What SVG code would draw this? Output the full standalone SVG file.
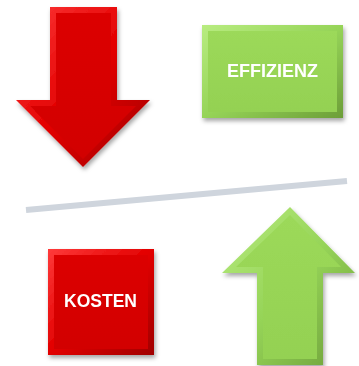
<svg xmlns="http://www.w3.org/2000/svg" width="359" height="366" viewBox="0 0 359 366">
<defs>
<filter id="sh" x="-20%" y="-20%" width="140%" height="140%">
<feDropShadow dx="1.5" dy="3" stdDeviation="2" flood-color="#000" flood-opacity="0.35"/>
</filter>
<linearGradient id="redRim" x1="0" y1="0" x2="1" y2="1">
<stop offset="0" stop-color="#ff3a3a"/>
<stop offset="0.5" stop-color="#e20000"/>
<stop offset="1" stop-color="#a00000"/>
</linearGradient>
<linearGradient id="redFill" x1="0" y1="0" x2="0" y2="1">
<stop offset="0" stop-color="#dc0000"/>
<stop offset="1" stop-color="#d20000"/>
</linearGradient>
<linearGradient id="greenRim" x1="0" y1="0" x2="1" y2="1">
<stop offset="0" stop-color="#b8ec80"/>
<stop offset="0.5" stop-color="#96d458"/>
<stop offset="1" stop-color="#6c9e38"/>
</linearGradient>
<linearGradient id="greenFill" x1="0" y1="0" x2="0" y2="1">
<stop offset="0" stop-color="#9cd95a"/>
<stop offset="1" stop-color="#94d152"/>
</linearGradient>
<style>
.lbl{font-family:"Liberation Sans",Arial,sans-serif;font-weight:bold;font-size:17.5px;fill:#fff;text-anchor:middle}
</style>
</defs>
<g id="divider">
<line x1="26" y1="210" x2="347" y2="181" stroke="#cfd5dd" stroke-width="6"/>
</g>
<g id="arrow-down" filter="url(#sh)">
<polygon points="50,7 117,7 117,100 150,100 83,167 16,100 50,100" fill="url(#redRim)"/>
<polygon points="56,13 111,13 111,106 136,106 83,159 30,106 56,106" fill="url(#redFill)"/>
</g>
<g id="effizienz" filter="url(#sh)">
<rect x="202" y="25" width="141" height="93" fill="url(#greenRim)"/>
<rect x="208" y="31" width="129" height="81" fill="url(#greenFill)"/>
<text class="lbl" x="272.5" y="77" textLength="91" lengthAdjust="spacingAndGlyphs">EFFIZIENZ</text>
</g>
<g id="kosten" filter="url(#sh)">
<rect x="48" y="249" width="106" height="106" fill="url(#redRim)"/>
<rect x="54" y="255" width="94" height="94" fill="url(#redFill)"/>
<text class="lbl" x="100.5" y="307">KOSTEN</text>
</g>
<g id="arrow-up" filter="url(#sh)">
<polygon points="290,207 355,273 323,273 323,365 257,365 257,273 222,273" fill="url(#greenRim)"/>
<polygon points="290,215 341,267 317,267 317,359 263,359 263,267 236,267" fill="url(#greenFill)"/>
</g>
</svg>
